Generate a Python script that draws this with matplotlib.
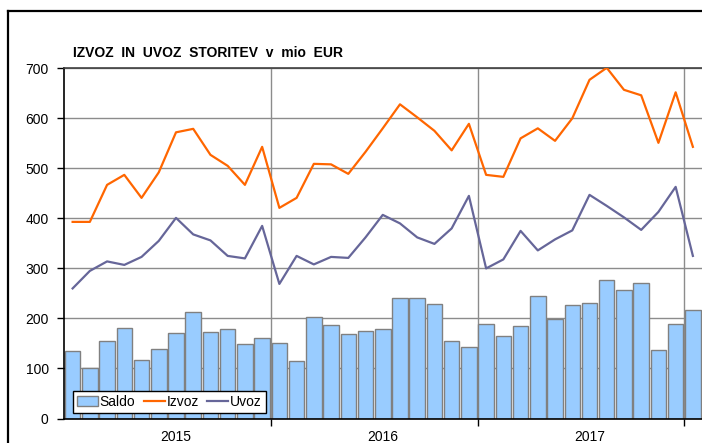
"""
Izvoz in uvoz storitev, mesečno 2015-2018
"""

import matplotlib
matplotlib.use("Agg")
import matplotlib.pyplot as plt
from matplotlib.lines import Line2D
import numpy as np

plt.rcParams["font.family"] = ["Liberation Sans", "DejaVu Sans"]

# mesečni podatki v mio EUR (jan 2015 - jan 2018)
saldo = [135, 100, 154, 181, 117, 138, 170, 212, 173, 179, 148, 160,
         151, 115, 203, 186, 169, 175, 179, 240, 241, 228, 155, 143,
         189, 164, 185, 245, 199, 226, 231, 277, 257, 271, 137, 189,
         217]
izvoz = [393, 393, 467, 487, 441, 492, 572, 579, 527, 505, 467, 543,
         421, 441, 509, 508, 489, 533, 580, 628, 602, 575, 536, 589,
         487, 483, 560, 580, 555, 600, 677, 701, 657, 646, 551, 652,
         543]
uvoz = [260, 295, 314, 307, 323, 355, 401, 368, 356, 325, 320, 385,
        269, 325, 308, 323, 321, 362, 407, 390, 362, 349, 380, 445,
        300, 318, 375, 336, 358, 376, 447, 425, 402, 377, 413, 463,
        325]
years = ["2015", "2016", "2017"]
y_ticks = [0, 100, 200, 300, 400, 500, 600, 700]

W, H = 702, 443
fig = plt.figure(figsize=(W / 100, H / 100), dpi=100)
ax = fig.add_axes([64 / W, (H - 418.5) / H, (701.5 - 64) / W, 350.2 / H])

x = np.arange(len(saldo))
bars = ax.bar(x, saldo, width=0.9, color="#99CCFF", edgecolor="#808080",
              linewidth=1.0, label="Saldo", zorder=2)
l_izvoz, = ax.plot(x, izvoz, color="#FF6600", lw=1.6, label="Izvoz", zorder=3)
l_uvoz, = ax.plot(x, uvoz, color="#666699", lw=1.6, label="Uvoz", zorder=3)

ax.set_xlim(-0.5, len(saldo) - 0.5)
ax.set_ylim(0, 700)
ax.set_yticks(y_ticks)
ax.tick_params(axis="y", direction="out", length=5, width=1,
               labelsize=10, pad=6)

# meje let kot glavne oznake, letnice kot pomožne
ax.set_xticks([11.5, 23.5, 35.5])
ax.set_xticklabels([])
ax.set_xticks([6, 18, 30], minor=True)
ax.set_xticklabels(years, minor=True)
ax.tick_params(axis="x", which="major", direction="out", length=5, width=1)
ax.tick_params(axis="x", which="minor", length=0, labelsize=10, pad=8)

ax.set_axisbelow(True)
ax.grid(axis="y", color="#8c8c8c", lw=1)
ax.grid(axis="x", which="major", color="#8c8c8c", lw=1)

for s in ["left", "bottom"]:
    ax.spines[s].set_color("black")
    ax.spines[s].set_linewidth(1.2)
ax.spines["top"].set_color("#404040")
ax.spines["top"].set_linewidth(1.2)
ax.spines["right"].set_visible(False)

leg = ax.legend([bars, l_izvoz, l_uvoz], ["Saldo", "Izvoz", "Uvoz"],
                loc="lower left", bbox_to_anchor=(0.0137, 0.0157),
                ncol=3, fontsize=10, frameon=True, fancybox=False,
                edgecolor="black", framealpha=1, borderaxespad=0,
                handlelength=1.5, handletextpad=0.15, columnspacing=0.6,
                borderpad=0.3)
leg.get_frame().set_linewidth(1.0)

fig.text(73 / W, (H - 57) / H, "IZVOZ  IN  UVOZ  STORITEV  v  mio  EUR",
         fontsize=10, fontweight="bold", ha="left", va="baseline")

# okvir grafikona (desno in spodaj odrezan)
fig.add_artist(Line2D([8.3 / W, 8.3 / W], [(H - 11) / H, -0.05],
                      transform=fig.transFigure, color="black", lw=1.6))
fig.add_artist(Line2D([8.3 / W, 1.05], [(H - 11) / H, (H - 11) / H],
                      transform=fig.transFigure, color="black", lw=1.6))

fig.savefig("out.png", dpi=100)
